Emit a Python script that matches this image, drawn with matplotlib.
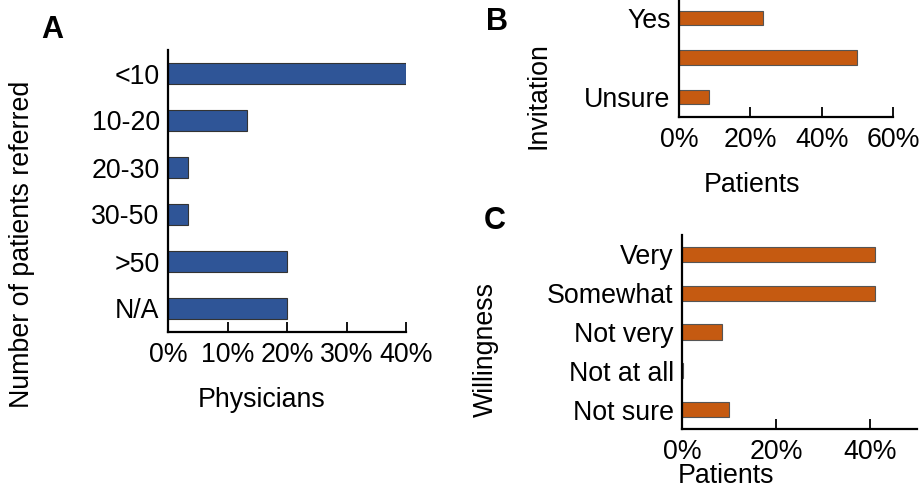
import matplotlib
matplotlib.use("Agg")
import matplotlib.pyplot as plt

plt.rcParams['font.family'] = ['Liberation Sans', 'DejaVu Sans']

# Panel A data
a_categories = ["<10", "10-20", "20-30", "30-50", ">50", "N/A"]
a_values = [40.0, 13.3, 3.3, 3.3, 20.0, 20.0]
a_ticks = [0, 10, 20, 30, 40]

# Panel B data
b_categories = ["Yes", "", "Unsure"]
b_values = [23.6, 50.0, 8.4]
b_ticks = [0, 20, 40, 60]

# Panel C data
c_categories = ["Very", "Somewhat", "Not very", "Not at all", "Not sure"]
c_values = [41.0, 41.0, 8.6, 0.3, 10.0]
c_ticks = [0, 20, 40]

W, H = 921, 488
fig = plt.figure(figsize=(W / 100, H / 100), dpi=100)

def rect(l, t, r, b):
    return [l / W, 1 - b / H, (r - l) / W, (b - t) / H]

FS = 19.3
blue = "#2F5597"
orange = "#C55A11"

def style(ax, xmax, ticks):
    for s in ["top", "right"]:
        ax.spines[s].set_visible(False)
    for s in ["left", "bottom"]:
        ax.spines[s].set_linewidth(1.6)
    ax.set_xlim(0, xmax)
    ax.set_xticks(ticks)
    ax.set_xticklabels([f"{t}%" for t in ticks], fontsize=FS)
    ax.tick_params(axis="x", direction="in", length=7, width=1.3, pad=7)
    ax.tick_params(axis="y", length=0, pad=6, labelsize=FS)

# Panel A
axA = fig.add_axes(rect(168, 50, 406, 332))
n = len(a_categories)
pos = list(range(n))[::-1]
axA.barh(pos, a_values, height=0.46, color=blue, edgecolor="#333333", linewidth=0.8)
axA.set_yticks(pos)
axA.set_yticklabels(a_categories)
axA.set_ylim(-0.5, n - 0.5)
style(axA, 40, a_ticks)
axA.set_xlabel("Physicians", fontsize=FS, labelpad=14)
axA.xaxis.label.set_x(0.395)
axA.set_ylabel("Number of patients referred", fontsize=FS)
axA.yaxis.set_label_coords(-0.56, 0.31)
fig.text(52 / W, 1 - 30 / H, "A", fontsize=22, fontweight="bold", ha="center", va="center")

# Panel B
axB = fig.add_axes(rect(679, -2, 893, 117))
n = len(b_categories)
pos = list(range(n))[::-1]
axB.barh(pos, b_values, height=0.36, color=orange, edgecolor="#555555", linewidth=0.8)
axB.set_yticks(pos)
axB.set_yticklabels(b_categories)
axB.set_ylim(-0.5, n - 0.5)
style(axB, 60, b_ticks)
axB.set_xlabel("Patients", fontsize=FS, labelpad=14)
axB.xaxis.label.set_x(0.34)
axB.set_ylabel("Invitation", fontsize=FS)
axB.yaxis.set_label_coords(-0.595, 0.18)
fig.text(497 / W, 1 - 22 / H, "B", fontsize=22, fontweight="bold", ha="center", va="center")

# Panel C
axC = fig.add_axes(rect(682, 235, 917, 429))
n = len(c_categories)
pos = list(range(n))[::-1]
axC.barh(pos, c_values, height=0.39, color=orange, edgecolor="#555555", linewidth=0.8)
axC.set_yticks(pos)
axC.set_yticklabels(c_categories)
axC.set_ylim(-0.5, n - 0.5)
style(axC, 50, c_ticks)
axC.set_xlabel("Patients", fontsize=FS, labelpad=-1)
axC.xaxis.label.set_x(0.187)
axC.set_ylabel("Willingness", fontsize=FS)
axC.yaxis.set_label_coords(-0.78, 0.41)
fig.text(495 / W, 1 - 221 / H, "C", fontsize=22, fontweight="bold", ha="center", va="center")

fig.savefig("out.png", dpi=100)
